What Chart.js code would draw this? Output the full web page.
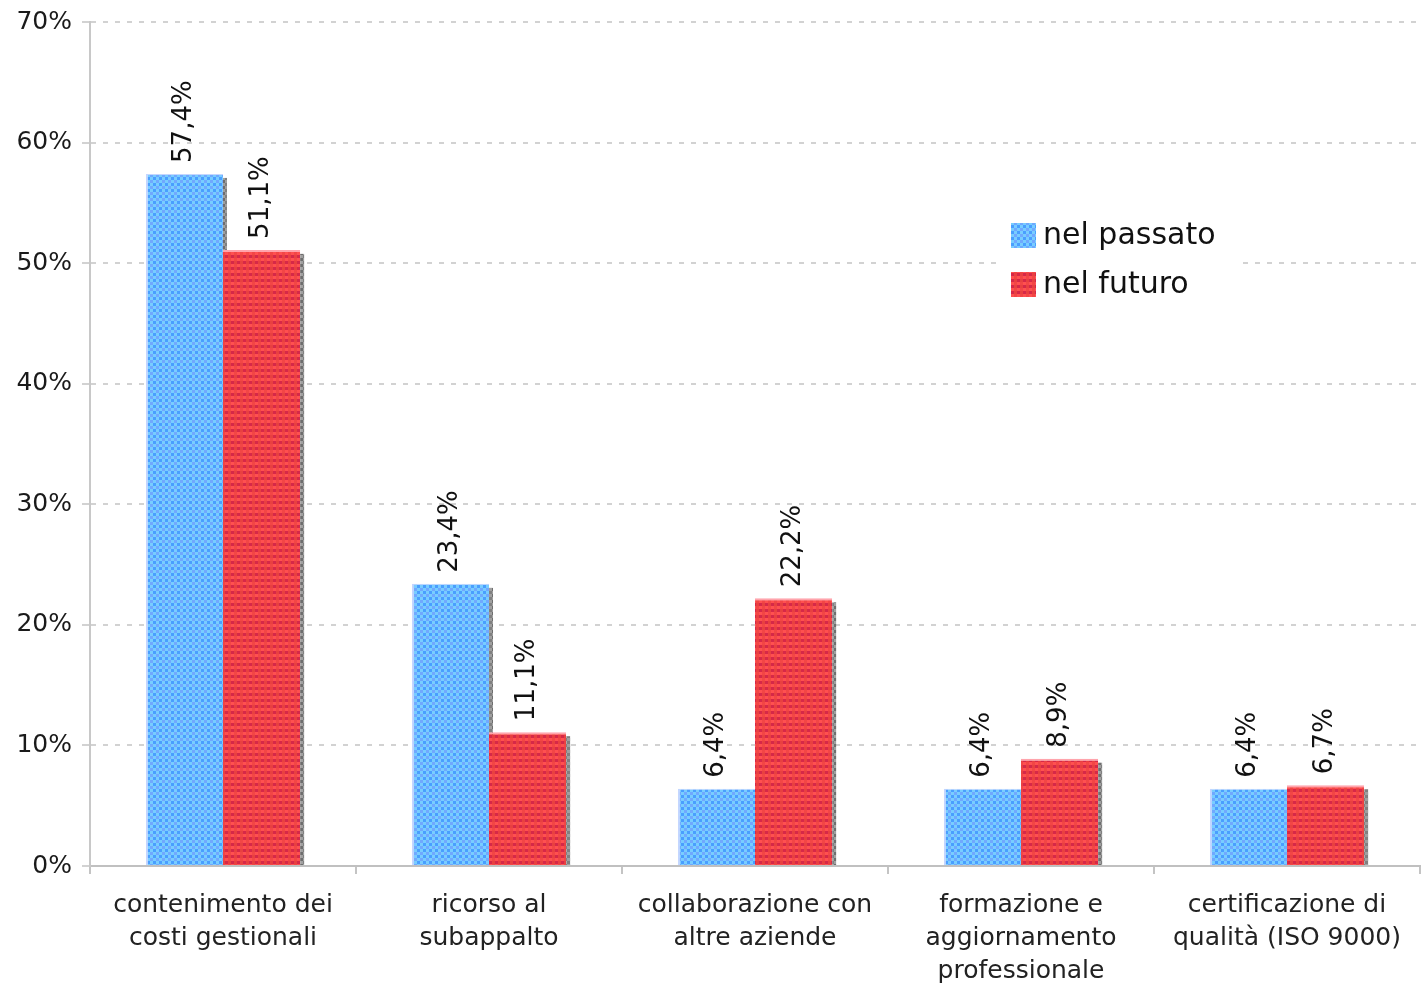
<!DOCTYPE html>
<html>
<head>
<meta charset="utf-8">
<script src="https://cdn.jsdelivr.net/npm/chart.js@4/dist/chart.umd.min.js"></script>
<style>
  html, body { margin: 0; padding: 0; background: #fff; }
  canvas { display: block; }
</style>
</head>
<body>
<canvas id="chart" width="1427" height="983"></canvas>
<script>
// Categories (multi-line axis labels)
const categories = [
  ['contenimento dei', 'costi gestionali'],
  ['ricorso al', 'subappalto'],
  ['collaborazione con', 'altre aziende'],
  ['formazione e', 'aggiornamento', 'professionale'],
  ['certificazione di', 'qualità (ISO 9000)']
];
const seriesNames = ['nel passato', 'nel futuro'];
const passato = [57.4, 23.4, 6.4, 6.4, 6.4];
const futuro = [51.1, 11.1, 22.2, 8.9, 6.7];
const yTicks = [0, 10, 20, 30, 40, 50, 60, 70];

const FONT = "'DejaVu Sans', Verdana, sans-serif";
Chart.defaults.font.family = FONT;
Chart.defaults.color = '#222';

// Small dithered fill patterns for the bars
function makePattern(cells) {
  const c = document.createElement('canvas');
  c.width = 6; c.height = 6;
  const g = c.getContext('2d');
  g.fillStyle = cells[0]; g.fillRect(0, 0, 3, 3);
  g.fillStyle = cells[1]; g.fillRect(3, 0, 3, 3);
  g.fillStyle = cells[2]; g.fillRect(0, 3, 3, 3);
  g.fillStyle = cells[3]; g.fillRect(3, 3, 3, 3);
  return g.createPattern(c, 'repeat');
}
const ctx = document.getElementById('chart').getContext('2d');
const bluePattern = makePattern(['#70a8ff', '#78cdff', '#78cdff', '#4a9eff']);
const redPattern = makePattern(['#f24646', '#ff5050', '#e84040', '#d62848']);
const shadowPattern = makePattern(['#6e6e6e', '#a0a0a0', '#a0a0a0', '#808080']);

// Drop shadow strip along the right side of every bar
const barShadow = {
  id: 'barShadow',
  beforeDatasetsDraw(chart) {
    const c = chart.ctx;
    const a = chart.chartArea;
    c.save();
    c.beginPath();
    c.rect(a.left, a.top, a.right - a.left + 10, a.bottom - a.top);
    c.clip();
    c.fillStyle = shadowPattern;
    chart.data.datasets.forEach((ds, di) => {
      chart.getDatasetMeta(di).data.forEach(bar => {
        const p = bar.getProps(['x', 'y', 'base', 'width'], true);
        const right = p.x + p.width / 2;
        c.fillRect(right, p.y + 4, 4, p.base - p.y - 4);
      });
    });
    c.restore();
  }
};

// Vertical value labels above each bar
const valueLabels = {
  id: 'valueLabels',
  afterDatasetsDraw(chart) {
    const c = chart.ctx;
    c.save();
    c.font = '26px ' + FONT;
    c.fillStyle = '#111';
    c.textAlign = 'left';
    c.textBaseline = 'middle';
    chart.data.datasets.forEach((ds, di) => {
      chart.getDatasetMeta(di).data.forEach((bar, i) => {
        const txt = ds.data[i].toFixed(1).replace('.', ',') + '%';
        c.save();
        c.translate(bar.x, bar.y - 11);
        c.rotate(-Math.PI / 2);
        c.fillText(txt, 0, 0);
        c.restore();
      });
    });
    c.restore();
  }
};

// Legend box inside the plot area
const innerLegend = {
  id: 'innerLegend',
  afterDraw(chart) {
    const c = chart.ctx;
    const a = chart.chartArea;
    const x = a.left + 921, y = a.top + 201;
    c.save();
    c.fillStyle = '#fff';
    c.fillRect(x - 11, y - 9, 236, 92);
    c.font = '30px ' + FONT;
    c.textBaseline = 'middle';
    c.textAlign = 'left';
    chart.data.datasets.forEach((ds, i) => {
      const by = y + i * 49;
      c.fillStyle = ds.backgroundColor;
      c.fillRect(x, by, 25, 25);
      c.fillStyle = '#111';
      c.fillText(ds.label, x + 32, by + 13);
    });
    c.restore();
  }
};

new Chart(ctx, {
  type: 'bar',
  data: {
    labels: categories,
    datasets: [
      {
        label: seriesNames[0],
        data: passato,
        backgroundColor: bluePattern,
        borderColor: '#c4d6ff',
        borderWidth: { left: 2, top: 1, right: 0, bottom: 0 },
        borderSkipped: false
      },
      {
        label: seriesNames[1],
        data: futuro,
        backgroundColor: redPattern,
        borderColor: '#ffa4ac',
        borderWidth: { left: 0, top: 2, right: 0, bottom: 0 },
        borderSkipped: false
      }
    ]
  },
  options: {
    responsive: false,
    animation: false,
    layout: { padding: { top: 22, right: 7, left: 0, bottom: 0 } },
    datasets: {
      bar: { categoryPercentage: 0.58, barPercentage: 1.0 }
    },
    plugins: {
      legend: { display: false },
      tooltip: { enabled: false }
    },
    scales: {
      x: {
        afterFit(s) { s.height = 117; },
        grid: {
          display: true,
          drawOnChartArea: false,
          drawTicks: true,
          tickLength: 8,
          color: '#c4c4c4',
          lineWidth: 2,
          offset: true
        },
        border: { display: true, color: '#c0c0c0', width: 2 },
        ticks: {
          font: { size: 25, lineHeight: 1.32 },
          color: '#222',
          padding: 15,
          maxRotation: 0,
          autoSkip: false
        }
      },
      y: {
        min: 0,
        max: 70,
        afterFit(s) { s.width = 90; s.paddingTop = 0; },
        afterBuildTicks(s) { s.ticks = yTicks.map(v => ({ value: v })); },
        grid: {
          color: '#d2d2d2',
          lineWidth: 2,
          tickLength: 8,
          tickBorderDash: []
        },
        border: { display: true, color: '#c8c8c8', width: 2, dash: [5, 7] },
        ticks: {
          font: { size: 25 },
          color: '#1a1a1a',
          padding: 10,
          callback: v => v + '%'
        }
      }
    }
  },
  plugins: [barShadow, valueLabels, innerLegend]
});
</script>
</body>
</html>
